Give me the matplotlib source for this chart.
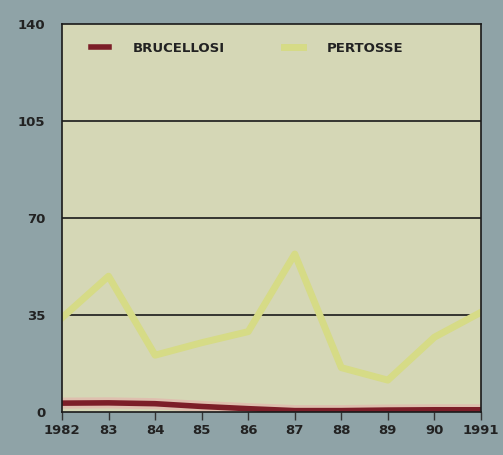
import matplotlib.pyplot as plt

anni = ["1982", "83", "84", "85", "86", "87", "88", "89", "90", "1991"]
pertosse = [34, 49, 20.5, 25, 29, 57, 16, 11.5, 27, 36]
brucellosi = [3.2, 3.3, 3.0, 2.0, 1.2, 0.5, 0.5, 0.7, 0.8, 0.8]
y_ticks = [0, 35, 70, 105, 140]

fig = plt.figure(figsize=(5.03, 4.55), dpi=100, facecolor="#8fa3a7")
ax = fig.add_axes([62 / 503, 43 / 455, 419 / 503, 388 / 455])
ax.set_facecolor("#d5d7b6")

x = list(range(len(anni)))
ax.plot(x, brucellosi, color="#e8a8a8", lw=8, alpha=0.5, solid_capstyle="butt")
ax.plot(x, brucellosi, color="#7c1e28", lw=4, label="BRUCELLOSI")
ax.plot(x, pertosse, color="#d6db86", lw=5, label="PERTOSSE")

ax.set_xlim(0, len(anni) - 1)
ax.set_ylim(0, 140)
ax.set_yticks(y_ticks)
ax.set_xticks(x)
ax.set_xticklabels(anni)
for y in y_ticks[1:-1]:
    ax.axhline(y, color="#1a1a1a", lw=1.2, zorder=1)

for s in ax.spines.values():
    s.set_color("#1a1a1a")
    s.set_linewidth(1.2)

ax.tick_params(axis="x", direction="out", length=6, width=1, colors="#333333",
               labelsize=9.5, labelcolor="#222222", pad=3)
ax.tick_params(axis="y", length=0, labelsize=9.5, labelcolor="#222222", pad=12)
for lab in ax.get_xticklabels() + ax.get_yticklabels():
    lab.set_fontweight("bold")

leg = ax.legend(loc="upper left", ncol=2, frameon=False, fontsize=9.5,
                handlelength=1.4, handletextpad=1.8, columnspacing=4.5,
                bbox_to_anchor=(0.04, 0.985))
for t in leg.get_texts():
    t.set_fontweight("bold")
    t.set_color("#222222")

fig.savefig("out.png", dpi=100, facecolor=fig.get_facecolor())
